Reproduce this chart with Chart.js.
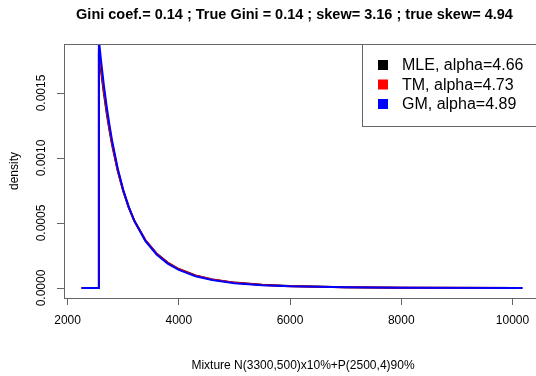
<!DOCTYPE html>
<html lang="en">
<head>
<meta charset="UTF-8">
<title>Pareto fits</title>
<script src="https://cdn.jsdelivr.net/npm/chart.js"></script>
<style>
    html, body { margin: 0; padding: 0; background: #fff; overflow: hidden; }
    #wrap { width: 536px; height: 376px; overflow: hidden; }
</style>
</head>
<body>
<div id="wrap"><canvas id="paretoChart" width="545" height="376"></canvas></div>
<script>
    // x positions of the plotted points (first two: sample values below xmin, density 0)
    const xValues = [2252, 2563, 2563, 2600, 2650, 2700, 2750, 2800, 2900, 3000, 3100, 3200,
                     3400, 3600, 3800, 4000, 4300, 4600, 5000, 5500, 6000, 7000, 8000, 10178];

    const mleDensity = [0, 0, 0.001818, 0.001676, 0.001505, 0.001354, 0.001220, 0.001102, 0.000904, 0.000746,
                        0.000619, 0.000517, 0.000367, 0.000266, 0.000196, 0.000146, 0.0000972, 0.0000663,
                        0.0000414, 0.0000241, 0.0000148, 0.0000062, 0.0000029, 0.0000007];
    const tmDensity = [0, 0, 0.001846, 0.001700, 0.001525, 0.001370, 0.001233, 0.001112, 0.000910, 0.000749,
                       0.000621, 0.000517, 0.000366, 0.000263, 0.000193, 0.000144, 0.0000952, 0.0000647,
                       0.0000401, 0.0000232, 0.0000141, 0.0000058, 0.0000027, 0.0000007];
    const gmDensity = [0, 0, 0.001908, 0.001754, 0.001567, 0.001404, 0.001260, 0.001134, 0.000922, 0.000755,
                       0.000622, 0.000516, 0.000361, 0.000258, 0.000188, 0.000139, 0.0000905, 0.0000609,
                       0.0000372, 0.0000213, 0.0000127, 0.0000051, 0.0000023, 0.0000006];

    const seriesLabels = ["MLE, alpha=4.66", "TM, alpha=4.73", "GM, alpha=4.89"];
    const seriesColors = ["#000000", "#ff0000", "#0000ff"];

    const xTicks = [2000, 4000, 6000, 8000, 10000];
    const yTicks = [0, 0.0005, 0.0010, 0.0015];
    const yTickLabels = ["0.0000", "0.0005", "0.0010", "0.0015"];

    const chartTitle = "Gini coef.= 0.14 ; True Gini = 0.14 ; skew= 3.16 ; true skew= 4.94";
    const xTitle = "Mixture N(3300,500)x10%+P(2500,4)90%";
    const yTitle = "density";

    const FONT = '"Liberation Sans", Arial, sans-serif';

    function toPoints(ys) {
        return xValues.map((x, i) => ({ x: x, y: ys[i] }));
    }

    const rStyle = {
        id: 'rStyle',
        afterDraw(chart) {
            const ctx = chart.ctx;
            const area = chart.chartArea;
            const yScale = chart.scales.y;
            ctx.save();

            // plot box
            ctx.strokeStyle = '#666';
            ctx.lineWidth = 1;
            ctx.strokeRect(area.left + 0.5, area.top + 0.5, area.right - area.left, area.bottom - area.top);

            // title
            ctx.fillStyle = '#000';
            ctx.font = 'bold 14.5px ' + FONT;
            ctx.textAlign = 'center';
            ctx.textBaseline = 'middle';
            ctx.fillText(chartTitle, 294.5, 15);

            // x axis title
            ctx.font = '12px ' + FONT;
            ctx.fillText(xTitle, 303, 366);

            // y axis title, rotated
            ctx.save();
            ctx.translate(15, (area.top + area.bottom) / 2);
            ctx.rotate(-Math.PI / 2);
            ctx.fillText(yTitle, 0, 0);
            ctx.restore();

            // y tick labels, rotated like R
            yTicks.forEach((v, i) => {
                const py = yScale.getPixelForValue(v);
                ctx.save();
                ctx.translate(42, py);
                ctx.rotate(-Math.PI / 2);
                ctx.fillText(yTickLabels[i], 0, 0);
                ctx.restore();
            });

            // legend box
            const lx = 362, ly = area.top, lh = 82;
            ctx.fillStyle = '#fff';
            ctx.fillRect(lx, ly, 200, lh);
            ctx.strokeStyle = '#666';
            ctx.strokeRect(lx + 0.5, ly + 0.5, 200, lh);
            ctx.font = '16px ' + FONT;
            ctx.textAlign = 'left';
            const rowY = [65, 84.5, 104];
            seriesLabels.forEach((lab, i) => {
                ctx.fillStyle = seriesColors[i];
                ctx.fillRect(378, rowY[i] - 5, 10, 10);
                ctx.fillStyle = '#000';
                ctx.fillText(lab, 402, rowY[i] + 1);
            });
            ctx.restore();
        }
    };

    const ctx = document.getElementById('paretoChart').getContext('2d');
    const paretoChart = new Chart(ctx, {
        type: 'scatter',
        data: {
            datasets: [
                // higher order is drawn first, so GM (blue) ends up on top like the original
                { label: seriesLabels[0], data: toPoints(mleDensity), borderColor: seriesColors[0], order: 3 },
                { label: seriesLabels[1], data: toPoints(tmDensity), borderColor: seriesColors[1], order: 2 },
                { label: seriesLabels[2], data: toPoints(gmDensity), borderColor: seriesColors[2], order: 1 }
            ].map(d => Object.assign(d, {
                showLine: true, borderWidth: 2, pointRadius: 0, tension: 0, fill: false
            }))
        },
        options: {
            responsive: false,
            animation: false,
            devicePixelRatio: 1,
            layout: { padding: { left: 0, right: 5, top: 44, bottom: 0 } },
            plugins: {
                legend: { display: false },
                title: { display: false },
                tooltip: { enabled: false }
            },
            scales: {
                x: {
                    type: 'linear',
                    min: 1935,
                    max: 10495,
                    afterBuildTicks: s => { s.ticks = xTicks.map(v => ({ value: v })); },
                    afterFit: s => { s.height = 78; },
                    grid: { display: true, drawOnChartArea: false, drawTicks: true, tickLength: 7, color: '#666' },
                    border: { display: false },
                    ticks: {
                        maxRotation: 0, minRotation: 0, padding: 8, color: '#000',
                        font: { family: FONT, size: 12 },
                        callback: v => String(v)
                    }
                },
                y: {
                    type: 'linear',
                    min: -0.0000769,
                    max: 0.001877,
                    afterBuildTicks: s => { s.ticks = yTicks.map(v => ({ value: v })); },
                    afterFit: s => { s.width = 64; },
                    grid: { display: true, drawOnChartArea: false, drawTicks: true, tickLength: 7, color: '#666' },
                    border: { display: false },
                    ticks: { display: false }
                }
            }
        },
        plugins: [rStyle]
    });
</script>
</body>
</html>
